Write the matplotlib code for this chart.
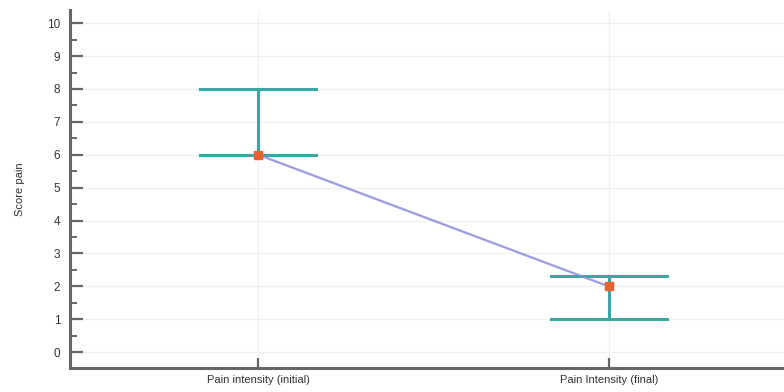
import numpy as np
import matplotlib.pyplot as plt
from matplotlib.ticker import MultipleLocator

plt.rcParams["font.family"] = ["Liberation Sans", "DejaVu Sans"]

# pain scores at the two time points
labels = ["Pain intensity (initial)", "Pain Intensity (final)"]
centre = [6, 2]
low = [6, 1]
high = [8, 2.33]

teal = "#3aa7a0"
pos = np.arange(len(labels))

fig = plt.figure(figsize=(7.84, 3.92), dpi=100)
ax = fig.add_axes([70 / 784, 24 / 392, 1 - 70 / 784, 1 - 34 / 392])

# light grid
ax.grid(True, color="#f0f0f0", linewidth=0.9)
ax.set_axisbelow(True)

# range bars with caps
half = 0.166
for x, lo, hi in zip(pos, low, high):
    ax.plot([x, x], [lo, hi], color=teal, linewidth=2.2, zorder=2)
    ax.plot([x - half, x + half], [lo, lo], color=teal, linewidth=2.2, zorder=2)
    ax.plot([x - half, x + half], [hi, hi], color=teal, linewidth=2.2, zorder=2)

ax.plot(pos, centre, color="#8c8ad8", linewidth=1.6, alpha=0.85, zorder=3)
ax.plot(pos, centre, linestyle="none", marker="s", markersize=5.5,
        color="#e8602c", zorder=4)

ax.set_xlim(-0.537, 1.5)
ax.set_ylim(-0.48, 10.4)
ax.set_xticks(pos)
ax.set_xticklabels(labels, fontsize=8, color="#333333")
ax.set_yticks(range(0, 11))
ax.yaxis.set_minor_locator(MultipleLocator(0.5))
ax.tick_params(axis="y", which="major", direction="in", length=9, width=1.6,
               color="#666666", labelsize=8.5, labelcolor="#333333", pad=7)
ax.tick_params(axis="y", which="minor", direction="in", length=5, width=1.4,
               color="#666666")
ax.tick_params(axis="x", direction="in", length=7, width=1.6, color="#666666",
               pad=5)
ax.set_ylabel("Score pain", fontsize=8, color="#333333", labelpad=16)

for side in ["top", "right"]:
    ax.spines[side].set_visible(False)
for side in ["left", "bottom"]:
    ax.spines[side].set_color("#666666")
    ax.spines[side].set_linewidth(2.2)

fig.savefig("out.png", dpi=100)
